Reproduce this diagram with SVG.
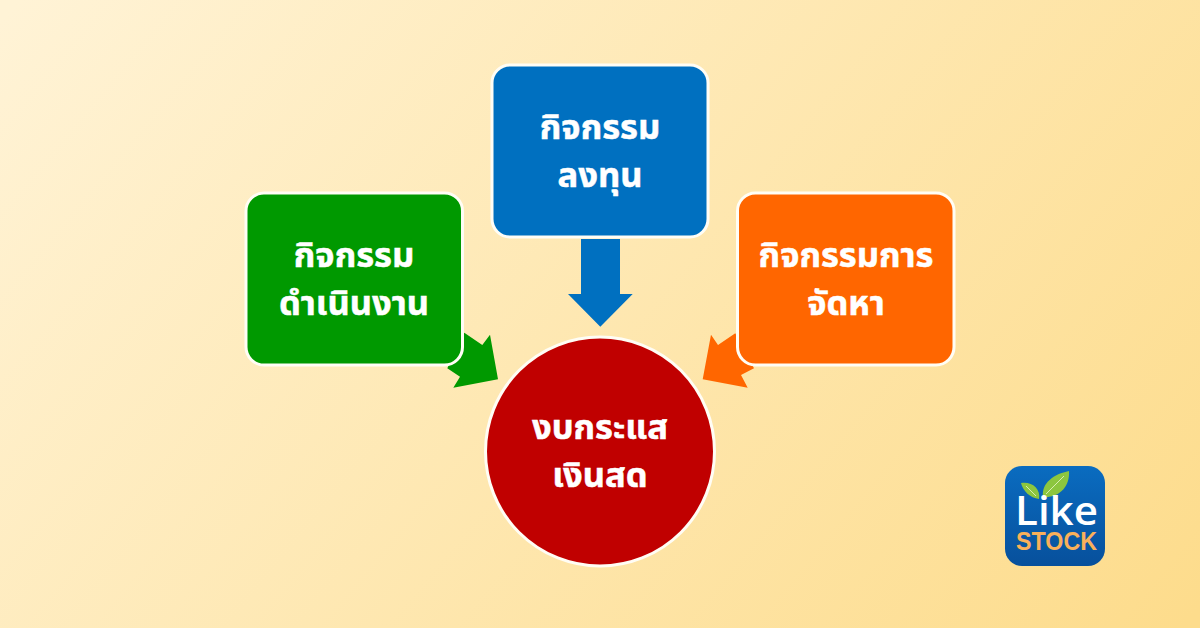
<svg xmlns="http://www.w3.org/2000/svg" width="1200" height="628" viewBox="0 0 1200 628">
<defs><linearGradient id="bg" gradientUnits="userSpaceOnUse" x1="100" y1="-100" x2="1100" y2="728"><stop offset="0" stop-color="#fff3d6"/><stop offset="1" stop-color="#fddc8c"/></linearGradient>
<linearGradient id="logo" x1="0" y1="0" x2="0" y2="1"><stop offset="0" stop-color="#0a6cc0"/><stop offset="1" stop-color="#07509c"/></linearGradient></defs>
<style>.t{font-family:"Noto Sans","Noto Sans Thai",sans-serif;font-weight:700;font-size:34.500px;fill:#fff;text-anchor:middle;stroke:#fff;stroke-width:.5px}.b{stroke:#fffdf5;stroke-width:3}</style>
<rect width="1200" height="628" fill="url(#bg)"/>
<g id="connectors">
<polygon points="581,239 620,239 620,294 632.700,294 600.300,326.700 568,294 581,294" fill="#0070c0"/>
<polygon points="464.300,332.700 482.300,345 490,334.700 498,379.300 453.300,387.700 460,376.700 447.300,368.300" fill="#009900"/>
<polygon points="735.300,333.300 718,345 711,334.700 702.700,379.300 747.700,387.700 741,375 754,368.300" fill="#ff6600"/>
</g>
<g id="n1"><rect class="b" x="246" y="193" width="216.500" height="172" rx="18" fill="#009900"/><text class="t" x="354" y="267">กิจกรรม</text><text class="t" x="354" y="315">ดำเนินงาน</text></g>
<g id="n2"><rect class="b" x="492" y="65" width="216" height="172" rx="18" fill="#0070c0"/><text class="t" x="600" y="139">กิจกรรม</text><text class="t" x="600" y="187">ลงทุน</text></g>
<g id="n3"><rect class="b" x="737.500" y="193" width="216.500" height="172" rx="18" fill="#ff6600"/><text class="t" x="846" y="267">กิจกรรมการ</text><text class="t" x="846" y="315">จัดหา</text></g>
<g id="n4"><circle class="b" cx="600" cy="451.500" r="114.500" fill="#c00000"/><text class="t" x="600" y="439">งบกระแส</text><text class="t" x="600" y="487">เงินสด</text></g>
<g id="logo-mark"><rect x="1005" y="466" width="100" height="100" rx="17" fill="url(#logo)"/>
<path d="M1043,497 C1041,483 1054,474 1069,471 C1070,486 1060,498 1043,497Z" fill="#8cc63f"/>
<path d="M1039,499 C1030,498 1023,491 1021,483 C1031,481 1041,488 1039,499Z" fill="#8cc63f"/>
<path d="M1046,494 L1064,476 M1036,496 L1026,486" stroke="#d8eeb0" stroke-width="1" fill="none"/>
<text x="1056.500" y="525" font-family="'Open Sans','Liberation Sans',sans-serif" font-weight="600" font-size="39" fill="#fff" text-anchor="middle" textLength="83" lengthAdjust="spacingAndGlyphs">Like</text>
<text x="1056.500" y="550" font-family="'Liberation Sans',sans-serif" font-weight="700" font-size="25" fill="#f9b05a" text-anchor="middle" textLength="81" lengthAdjust="spacingAndGlyphs">STOCK</text></g>
</svg>
